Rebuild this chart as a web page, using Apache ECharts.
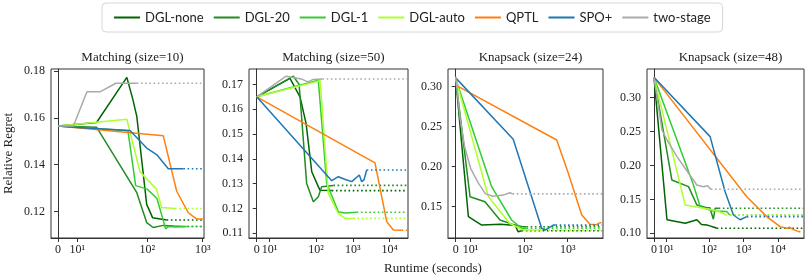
<!DOCTYPE html>
<html>
<head>
<meta charset="utf-8">
<script src="https://cdn.jsdelivr.net/npm/echarts@6/dist/echarts.min.js"></script>
<style>html,body{margin:0;padding:0;background:#fff}#c{width:807px;height:277px}</style>
</head>
<body>
<div id="c"></div>
<script>
// ---------- data ----------
const methods = ['DGL-none','DGL-20','DGL-1','DGL-auto','QPTL','SPO+','two-stage'];
const panelTitles = ['Matching (size=10)','Matching (size=50)','Knapsack (size=24)','Knapsack (size=48)'];
const xTickValues = [[0,10,100,1000],[0,10,100,1000,10000],[0,10,100,1000],[0,10,100,1000,10000]];
const xTickLabels = [['0','10¹','10²','10³'],['0','10¹','10²','10³','10⁴'],['0','10¹','10²','10³'],['0','10¹','10²','10³','10⁴']];
const yTickValues = [[0.12,0.14,0.16,0.18],[0.11,0.12,0.13,0.14,0.15,0.16,0.17],[0.15,0.20,0.25,0.30],[0.10,0.15,0.20,0.25,0.30]];
const xLabel = 'Runtime (seconds)';
const yLabel = 'Relative Regret';

// Matching (size=10): [runtime s, relative regret]
const m10_none  = [[0,0.1565],[20,0.158],[43,0.1773],[55,0.168],[65,0.1606],[98,0.123],[125,0.1173],[224,0.1163]];
const m10_20    = [[0,0.1565],[20,0.156],[65,0.128],[98,0.1152],[128,0.1131],[195,0.1140],[300,0.1137],[450,0.1135]];
const m10_1     = [[0,0.1565],[45,0.1545],[62,0.131],[100,0.1295],[150,0.1255],[215,0.1125],[240,0.1135],[330,0.1133],[520,0.1135]];
const m10_auto  = [[0,0.1565],[43,0.1594],[74,0.137],[148,0.1294],[182,0.1216],[317,0.1212]];
const m10_qptl  = [[0,0.1565],[195,0.1523],[340,0.1286],[550,0.1194],[780,0.1167],[950,0.1167]];
const m10_spo   = [[0,0.1565],[8,0.156],[49,0.1546],[98,0.1471],[148,0.1443],[240,0.1382],[448,0.1382]];
const m10_two   = [[0,0.1565],[8,0.1565],[15,0.1712],[22,0.1712],[30,0.1748],[65,0.1748]];

// Matching (size=50)
const m50_none  = [[0,0.165],[26,0.1724],[37,0.165],[54,0.1543],[77,0.1348],[116,0.1288],[130,0.1273],[268,0.1272]];
const m50_20    = [[0,0.165],[28.6,0.1733],[35,0.170],[56,0.1301],[85,0.1227],[116,0.1247],[143,0.1288],[297,0.1293]];
const m50_1     = [[0,0.165],[116,0.1717],[196,0.1301],[405,0.1187],[600,0.1182],[1274,0.1185]];
const m50_auto  = [[0,0.165],[130,0.1715],[216,0.1261],[400,0.118],[613,0.116],[1030,0.116]];
const m50_qptl  = [[0,0.165],[3990,0.1384],[8300,0.1147],[12540,0.1113],[21190,0.1112]];
const m50_spo   = [[0,0.165],[268,0.1312],[405,0.1328],[600,0.1318],[933,0.1308],[1500,0.1335],[1740,0.1308],[2000,0.1315],[2380,0.1355]];
const m50_two   = [[0,0.165],[23,0.1733],[40,0.1722],[60,0.171],[85,0.172],[150,0.1722]];

// Knapsack (size=24)
const k24_none  = [[0,0.31],[8.5,0.1375],[17.4,0.1271],[30,0.128],[45,0.127],[60,0.127],[70,0.1187],[85,0.12]];
const k24_20    = [[0,0.31],[9.6,0.1625],[19.6,0.1563],[29.7,0.1334],[59,0.127],[90,0.125],[110,0.125]];
const k24_1     = [[0,0.31],[24.1,0.175],[49.5,0.1334],[85,0.123],[110,0.123]];
const k24_auto  = [[0,0.31],[21.9,0.1625],[45,0.129],[93,0.1208],[226,0.1208]];
const k24_qptl  = [[0,0.302],[555,0.2334],[1033,0.1917],[2118,0.1396],[3305,0.128],[4700,0.1275],[5600,0.13]];
const k24_spo   = [[0,0.311],[54,0.2342],[248,0.123],[297,0.1208],[462,0.127],[520,0.127]];
const k24_two   = [[0,0.3125],[3,0.26],[6,0.225],[10,0.198],[15,0.18],[20,0.166],[25,0.163],[32,0.1645],[45,0.1675],[52,0.166]];

// Knapsack (size=48)
const k48_none  = [[0,0.33],[10.9,0.12],[26.2,0.1149],[44,0.12],[60,0.113],[86,0.1124],[105,0.111],[120,0.112],[140,0.109],[167,0.1075]];
const k48_20    = [[0,0.33],[15,0.1787],[29,0.1688],[44,0.1418],[80,0.138],[105,0.1378],[133,0.1208],[150,0.1369],[190,0.137]];
const k48_1     = [[0,0.33],[35,0.1713],[55,0.1393],[130,0.133],[327,0.132],[400,0.127]];
const k48_auto  = [[0,0.33],[26.2,0.1418],[133,0.1345],[261,0.1296],[300,0.127]];
const k48_qptl  = [[0,0.33],[1250,0.154],[4780,0.1246],[11650,0.1099],[18700,0.1074],[22000,0.109],[28300,0.1055],[41000,0.1025]];
const k48_spo   = [[0,0.33],[107,0.2426],[293,0.1614],[511,0.127],[800,0.12],[1250,0.1246]];
const k48_two   = [[0,0.33],[6.7,0.2524],[10.9,0.2377],[19.3,0.213],[29,0.1886],[44,0.1713],[68,0.1688],[90,0.17],[112,0.165]];

const panelData = [
  [m10_none,m10_20,m10_1,m10_auto,m10_qptl,m10_spo,m10_two],
  [m50_none,m50_20,m50_1,m50_auto,m50_qptl,m50_spo,m50_two],
  [k24_none,k24_20,k24_1,k24_auto,k24_qptl,k24_spo,k24_two],
  [k48_none,k48_20,k48_1,k48_auto,k48_qptl,k48_spo,k48_two]
];

// ---------- styles / layout ----------
const colors = ['#006400','#228b22','#32cd32','#adff2f','#ff7f0e','#1f77b4','#aaaaaa'];
const grids = [
  {left:51, top:69, width:153, height:169},
  {left:249, top:69, width:159, height:169},
  {left:448, top:69, width:155, height:169},
  {left:647, top:69, width:157, height:169}
];
const xRanges = [[-0.126,2.629],[-0.209,4.102],[-0.179,3.427],[-0.203,4.37]];
const yRanges = [[0.1086,0.1809],[0.1081,0.1762],[0.1109,0.3221],[0.0931,0.3423]];

// symmetric-log transform (linear below threshold, log above)
const LT = 32, LS = 1/0.9;
function T(x){ return x <= LT ? x / LT * LS : LS + Math.log10(x / LT); }

const serif = '"Liberation Serif","DejaVu Serif",serif';
const ink = '#222';

const option = {
  animation:false,
  backgroundColor:'#fff',
  title: panelTitles.map((t,i)=>({
    text:t, left: grids[i].left + grids[i].width/2, top: 46, textAlign:'center',
    textStyle:{fontFamily:serif, fontSize:13, fontWeight:'normal', color:ink}
  })).concat([{text:xLabel, left:428, top:257, textAlign:'center',
    textStyle:{fontFamily:serif, fontSize:13, fontWeight:'normal', color:ink}}]),
  legend:{
    data:methods, top:3, left:102,
    icon:'rect', itemWidth:26, itemHeight:2, itemGap:10,
    borderColor:'#d6d6d6', borderWidth:1, borderRadius:4, padding:[8,12],
    textStyle:{fontFamily:'Lato, "DejaVu Sans", sans-serif', fontSize:13, color:ink}
  },
  grid: grids.map(g=>Object.assign({show:true, borderColor:'#333', borderWidth:1, containLabel:false}, g)),
  xAxis: grids.map((g,i)=>({
    type:'value', gridIndex:i, min:xRanges[i][0], max:xRanges[i][1],
    splitLine:{show:false},
    axisLine:{show:true, lineStyle:{color:'#333'}},
    axisTick:{show:true, customValues: xTickValues[i].map(T), length:4, lineStyle:{color:'#333'}},
    axisLabel:{show:true, customValues: xTickValues[i].map(T), margin:6,
      fontFamily:serif, fontSize:12, color:ink,
      formatter:(v)=>{ const vals=xTickValues[i].map(T); let k=0,b=1e9; vals.forEach((t,j)=>{if(Math.abs(t-v)<b){b=Math.abs(t-v);k=j;}}); return xTickLabels[i][k]; }}
  })),
  yAxis: grids.map((g,i)=>({
    type:'value', gridIndex:i, min:yRanges[i][0], max:yRanges[i][1],
    splitLine:{show:false},
    axisLine:{show:true, lineStyle:{color:'#333'}},
    axisTick:{show:true, customValues:yTickValues[i], length:4, lineStyle:{color:'#333'}},
    axisLabel:{show:true, customValues:yTickValues[i], margin:6,
      fontFamily:serif, fontSize:12, color:ink, formatter:(v)=>v.toFixed(2)},
    name: i===0 ? yLabel : '', nameLocation:'middle', nameGap:36,
    nameTextStyle:{fontFamily:serif, fontSize:13, color:ink}
  })),
  series:[]
};

panelData.forEach((arrs,p)=>{
  arrs.forEach((arr,m)=>{
    const pts = arr.map(d=>[T(d[0]), d[1]]);
    option.series.push({
      name:methods[m], type:'line', xAxisIndex:p, yAxisIndex:p,
      data:pts, showSymbol:false, symbol:'none', silent:true,
      lineStyle:{color:colors[m], width:1.5}, itemStyle:{color:colors[m]}, z:2+m
    });
    const last = pts[pts.length-1];
    if (last[0] < xRanges[p][1]) {
      option.series.push({
        name:methods[m], type:'line', xAxisIndex:p, yAxisIndex:p,
        data:[last,[xRanges[p][1]-0.02,last[1]]], showSymbol:false, symbol:'none', silent:true,
        lineStyle:{color:colors[m], width:1.6, type:[1.6,2.6]}, itemStyle:{color:colors[m]}, z:2+m
      });
    }
  });
});

const chart = echarts.init(document.getElementById('c'), null, {renderer:'canvas'});
chart.setOption(option);
</script>
</body>
</html>
